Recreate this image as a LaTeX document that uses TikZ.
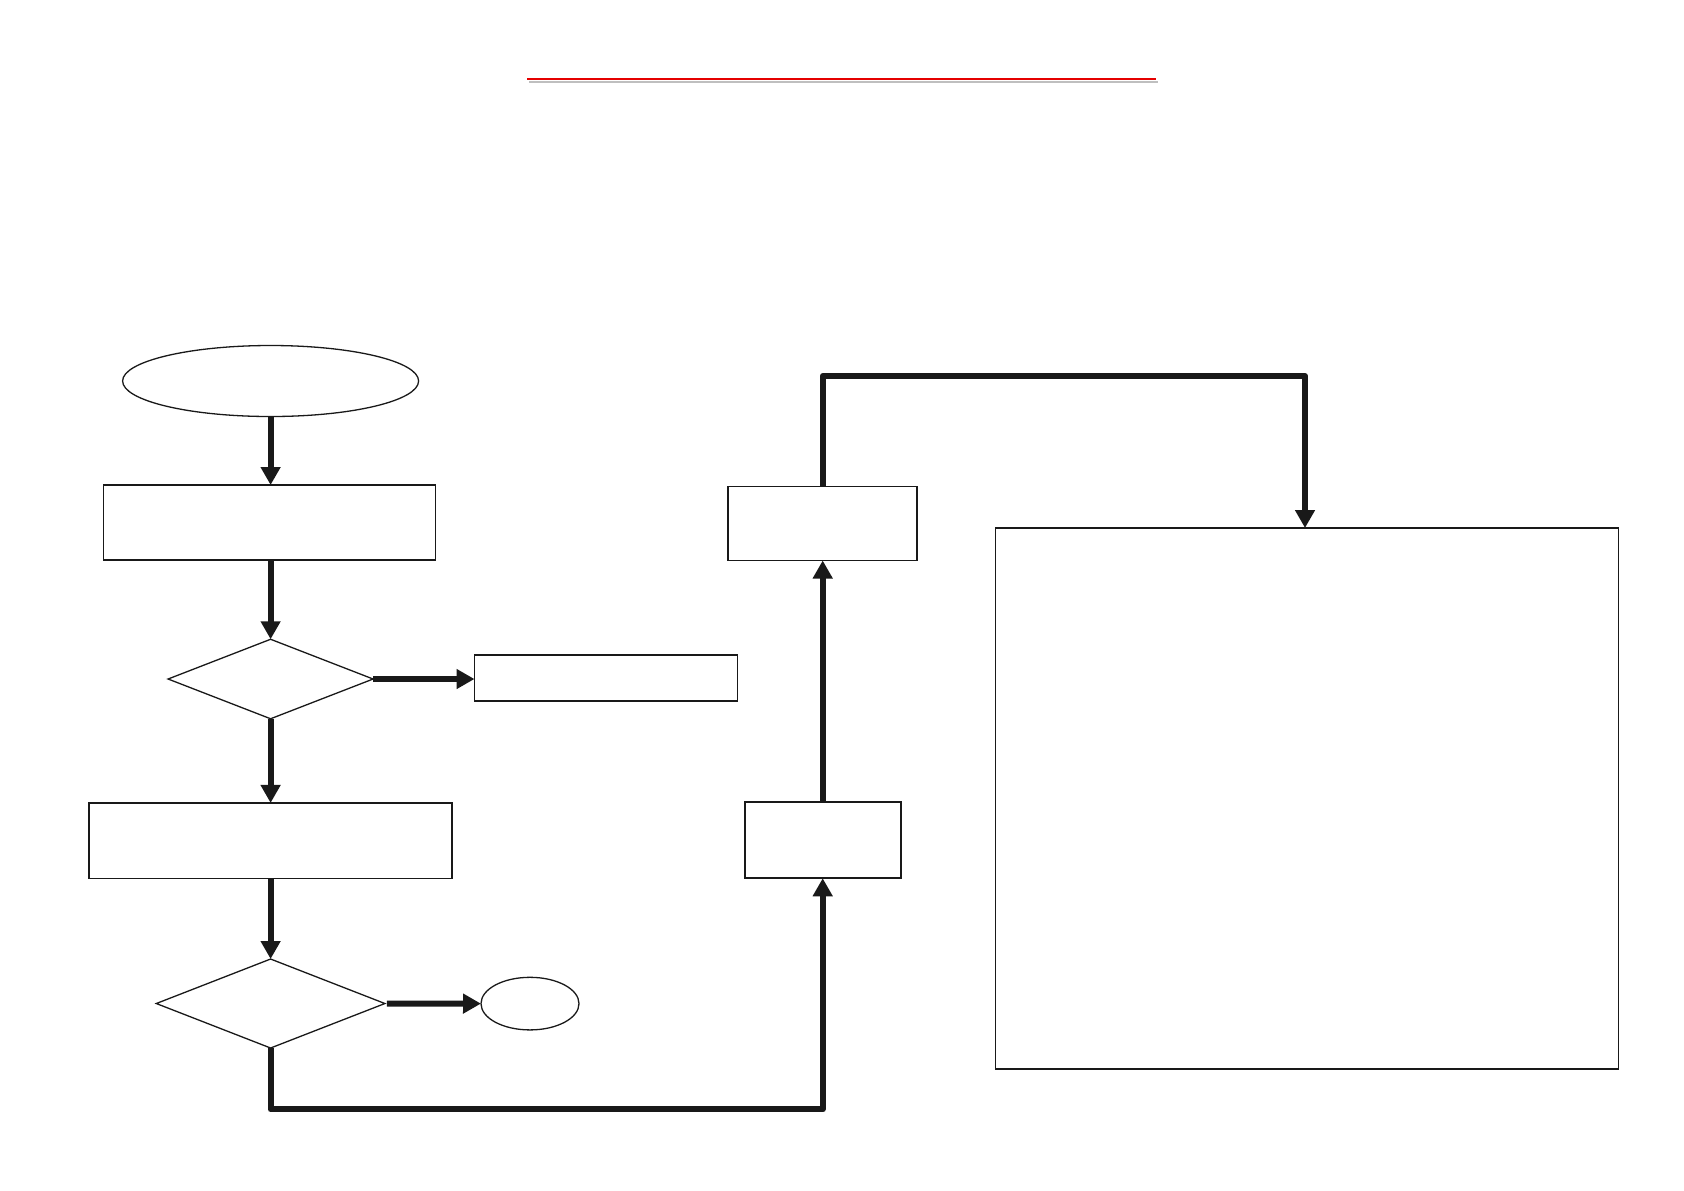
\documentclass[tikz,border=0pt]{standalone}
\usetikzlibrary{shapes.geometric,arrows.meta}
\begin{document}
\begin{tikzpicture}[x=0.5pt,y=-0.5pt,
  boxnode/.style={draw=black!90,line width=0.9pt,rectangle,inner sep=0pt,outer sep=0pt},
  ovalnode/.style={draw=black!90,line width=0.65pt,ellipse,inner sep=0pt,outer sep=0pt},
  decnode/.style={draw=black!90,line width=0.65pt,diamond,inner sep=0pt,outer sep=0pt},
  flow/.style={draw=black!90,line width=3pt,-{Triangle[length=9pt,width=9.5pt]},line join=round}]
\useasboundingbox[fill=white] (0,0) rectangle (1684,1190);

% title underline
\coordinate (tlA) at (529,82);
\coordinate (tlB) at (1158,82);
\coordinate (tA) at (527,79);
\coordinate (tB) at (1156,79);
\draw[black!25,line width=1.2pt] (tlA) -- (tlB);
\draw[red!90!black,line width=1.1pt] (tA) -- (tB);

% left column
\node[ovalnode,minimum width=148pt,minimum height=35.5pt] (start) at (270.6,381) {};
\node[boxnode,minimum width=166pt,minimum height=37.5pt] (b1) at (269.5,522.5) {};
\node[decnode,minimum width=102.5pt,minimum height=39.75pt] (d1) at (270.6,679) {};
\node[boxnode,minimum width=131.5pt,minimum height=23pt] (r1) at (606,678) {};
\node[boxnode,minimum width=181.5pt,minimum height=37.75pt] (b2) at (270.5,840.7) {};
\node[decnode,minimum width=114.3pt,minimum height=44.5pt] (d2) at (270.6,1003.5) {};
\node[ovalnode,minimum width=49pt,minimum height=26.3pt] (end) at (530,1003.6) {};

% middle column
\node[boxnode,minimum width=94.5pt,minimum height=37pt] (m1) at (822.7,523.5) {};
\node[boxnode,minimum width=78pt,minimum height=38.25pt] (m2) at (822.7,840) {};

% big box
\node[boxnode,minimum width=311.5pt,minimum height=270.3pt] (big) at (1307,798.3) {};

% bend points
\coordinate (loopB) at (822.7,1109.4);
\coordinate (loopT) at (1305,376);

% connectors
\draw[flow] (start.south) -- (start.south |- b1.north);
\draw[flow] (start.south |- b1.south) -- (d1.north);
\draw[flow] (d1.east) -- (d1.east -| r1.west);
\draw[flow] (d1.south) -- (d1.south |- b2.north);
\draw[flow] (d1.south |- b2.south) -- (d2.north);
\draw[flow] ([xshift=1pt]d2.east) -- (end.west);
\draw[flow] (d2.south) |- (loopB) -- (m2.south);
\draw[flow] (m2.north) -- (m1.south);
\draw[flow] (m1.north) |- (loopT) -- (loopT |- big.north);
\end{tikzpicture}
\end{document}
